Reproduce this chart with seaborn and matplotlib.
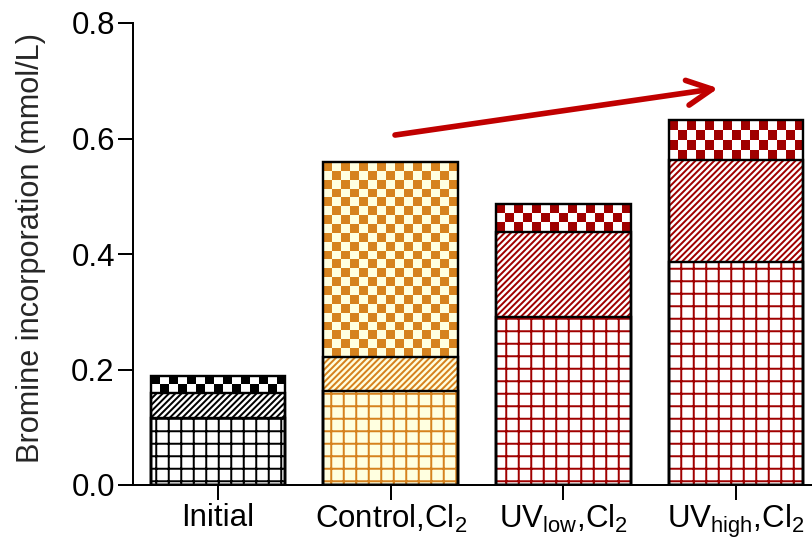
import numpy as np
import pandas as pd
import matplotlib
matplotlib.use("Agg")
import matplotlib.pyplot as plt
from matplotlib.colors import ListedColormap
import seaborn as sns

# --- data (mmol/L of bromine incorporated, stacked by fraction) ---
categories = ["Initial", "Control,Cl$_2$", "UV$_{low}$,Cl$_2$", "UV$_{high}$,Cl$_2$"]
grid_part = [0.116, 0.163, 0.291, 0.386]      # bottom segment (grid hatch)
diag_part = [0.043, 0.059, 0.147, 0.177]      # middle segment (diagonal hatch)
check_part = [0.030, 0.337, 0.049, 0.069]     # top segment (checkerboard)
y_ticks = [0.0, 0.2, 0.4, 0.6, 0.8]

# colours per bar: pattern colour and background colour
pattern_colors = ["#000000", "#D6821E", "#A00000", "#A00000"]
background_colors = ["#FFFFFF", "#FFFFE0", "#FFFFFF", "#FFFFFF"]
arrow_color = "#C00000"

DPI = 75
sns.set_style("ticks")
plt.rcParams["font.family"] = ["Liberation Sans", "DejaVu Sans"]
plt.rcParams["mathtext.default"] = "regular"
plt.rcParams["hatch.linewidth"] = 1.9

grid_arr = np.array(grid_part)
lower_top = grid_arr + np.array(diag_part)
totals = lower_top + np.array(check_part)

df = pd.DataFrame({"group": categories, "grid": grid_arr,
                   "lower": lower_top, "total": totals})

fig = plt.figure(figsize=(812 / DPI, 541 / DPI), dpi=DPI)
ax = fig.add_axes([133 / 812, 1 - 485 / 541, 1 - 133 / 812, (485 - 23) / 541])

BAR_W = 0.78
EDGE_LW = 2.3


def bars(col, **kw):
    before = len(ax.patches)
    sns.barplot(data=df, x="group", y=col, order=categories, width=BAR_W,
                saturation=1, errorbar=None, ax=ax, **kw)
    return ax.patches[before:]


# full-height bars: outline of the checker segment
top_bars = bars("total", color="white")
# middle (diagonal) segment covering the lower part
mid_bars = bars("lower", color="white")
for p, fg, bg in zip(mid_bars, pattern_colors, background_colors):
    p.set_facecolor(bg)
    p.set_edgecolor(fg)
    p.set_linewidth(0)
    p.set_hatch("////")
# bottom (grid) segment
low_bars = bars("grid", color="white")
for p, fg, bg in zip(low_bars, pattern_colors, background_colors):
    p.set_facecolor(bg)
    p.set_edgecolor(fg)
    p.set_linewidth(0)
    p.set_hatch("+")
# black outlines for the two lower segments
out_mid = bars("lower", fill=False)
out_low = bars("grid", fill=False)
for p in list(top_bars) + list(out_mid) + list(out_low):
    p.set_facecolor("none")
    p.set_edgecolor("black")
    p.set_linewidth(EDGE_LW)
    p.set_zorder(3)

ax.set_xlim(-0.4925, 3.44)
ax.set_ylim(0, 0.8)

# checkerboard fill for the top segments
CELL_PX = 9.0
for p, lo, hi, fg, bg in zip(top_bars, lower_top, totals, pattern_colors, background_colors):
    x0 = p.get_x()
    x1 = x0 + p.get_width()
    (px0, py0), (px1, py1) = ax.transData.transform([(x0, lo), (x1, hi)])
    ncol = max(1, int(round((px1 - px0) / CELL_PX)))
    nrow = max(1, int(round((py1 - py0) / CELL_PX)))
    board = (np.add.outer(np.arange(nrow), np.arange(ncol)) % 2 == 0).astype(float)
    ax.imshow(board, cmap=ListedColormap([bg, fg]), vmin=0, vmax=1,
              extent=(x0, x1, lo, hi), origin="upper", aspect="auto",
              interpolation="nearest", zorder=0.9)

ax.set_xlim(-0.4925, 3.44)
ax.set_ylim(0, 0.8)

# trend arrow
ax.annotate("", xy=(2.897, 0.687), xytext=(1.025, 0.606),
            arrowprops=dict(arrowstyle="->,head_length=1.2,head_width=0.6",
                            lw=5.4, color=arrow_color, shrinkA=0, shrinkB=0,
                            capstyle="round", joinstyle="round",
                            mutation_scale=20),
            zorder=4)

ax.set_yticks(y_ticks)
ax.set_yticklabels([f"{v:.1f}" for v in y_ticks])
ax.set_xlabel("")
ax.set_ylabel("Bromine incorporation (mmol/L)", fontsize=29.5)
ax.yaxis.set_label_coords(-0.128, 0.512)
ax.tick_params(axis="both", labelsize=30, length=14.4, width=1.9,
               color="black", labelcolor="black", pad=3)
for side in ("top", "right"):
    ax.spines[side].set_visible(False)
for side in ("left", "bottom"):
    ax.spines[side].set_linewidth(1.9)
    ax.spines[side].set_color("black")
ax.set_facecolor("white")
fig.patch.set_facecolor("white")

fig.savefig("out.png", dpi=DPI)
